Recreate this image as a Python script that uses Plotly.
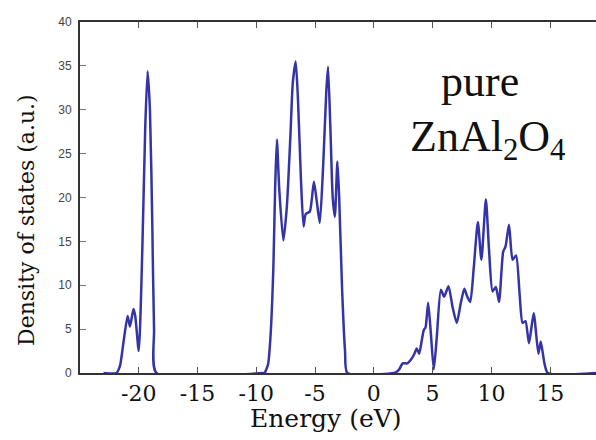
import plotly.graph_objects as go

# Energy (eV) and density of states (a.u.)
energy = [
    -23.0, -21.9, -21.6, -21.3, -20.95, -20.75, -20.45, -20.3, -20.0, -19.7,
    -19.45, -19.25, -19.05, -18.85, -18.7, -18.5, -9.4,
    -9.3, -9.0, -8.8, -8.55, -8.4, -8.25, -8.05, -7.7, -7.4, -7.1, -6.9,
    -6.65, -6.45, -6.2, -5.98, -5.8, -5.45, -5.1, -4.85, -4.6, -4.3, -4.05,
    -3.9, -3.7, -3.5, -3.32, -3.1, -2.95, -2.7, -2.45, -2.25, 1.7,
    1.9, 2.15, 2.45, 2.85, 3.15, 3.45, 3.65, 3.85, 4.05, 4.25, 4.4, 4.62,
    4.85, 5.1, 5.35, 5.7, 5.98, 6.35, 6.7, 7.05, 7.4, 7.7, 7.95, 8.2, 8.5,
    8.85, 9.15, 9.53, 9.8, 10.1, 10.38, 10.65, 11.0, 11.2, 11.5, 11.8, 12.1,
    12.4, 12.65, 12.9, 13.2, 13.6, 14.0, 14.2, 14.5, 14.8, 19.0,
]
dos = [
    0.0, 0.0, 0.8, 3.5, 6.5, 5.3, 7.3, 6.5, 2.5, 14.0,
    28.0, 34.4, 30.0, 17.0, 5.0, 0.0, 0.0,
    0.0, 1.0, 4.0, 12.0, 21.0, 26.6, 21.0, 15.1, 19.0, 27.0, 33.0,
    35.5, 31.0, 22.0, 16.7, 18.1, 18.4, 21.8, 19.5, 17.1, 24.0, 32.0,
    34.9, 28.0, 20.0, 17.8, 24.1, 20.0, 9.5, 2.5, 0.0, 0.0,
    0.1, 0.4, 1.1, 1.1, 1.5, 2.2, 2.8, 2.2, 3.5, 4.9, 5.2, 8.0,
    4.5, 0.4, 4.0, 9.5, 8.7, 9.9, 7.5, 5.7, 8.0, 9.6, 8.7, 8.1, 12.0,
    17.2, 12.9, 19.8, 14.0, 9.3, 9.8, 8.1, 13.8, 14.4, 16.9, 12.9, 13.4,
    9.0, 5.7, 5.9, 3.4, 6.8, 2.2, 3.6, 1.2, 0.0, 0.0,
]

x_ticks = [-20, -15, -10, -5, 0, 5, 10, 15]
x_tick_labels = ["-20", "-15", "-10", "-5", "0", "5", "10", "15"]
y_ticks = [0, 5, 10, 15, 20, 25, 30, 35, 40]

fig = go.Figure()
fig.add_trace(go.Scatter(
    x=energy, y=dos, mode="lines",
    line=dict(color="#3434a8", width=2.5, shape="spline", smoothing=0.6),
    showlegend=False, hoverinfo="skip",
))

serif = "Liberation Serif, Times New Roman, serif"
slab = "DejaVu Serif, serif"

fig.update_layout(
    width=596, height=440,
    margin=dict(l=80, r=0, t=22, b=67),
    paper_bgcolor="white", plot_bgcolor="white",
    xaxis=dict(
        range=[-25, 18.9], tickvals=x_ticks, ticktext=x_tick_labels,
        ticks="inside", ticklen=6, tickcolor="#555", tickwidth=1,
        showline=True, linecolor="#333", linewidth=2, mirror="ticks",
        showgrid=False, zeroline=False,
        tickfont=dict(family=slab, size=22, color="#111"),
    ),
    yaxis=dict(
        range=[0, 40], tickvals=y_ticks,
        ticks="inside", ticklen=6, tickcolor="#777", tickwidth=1,
        showline=True, linecolor="#333", linewidth=2,
        showgrid=False, zeroline=False,
        tickfont=dict(family="Liberation Sans, Arial, sans-serif", size=12, color="#444"),
        ticklabelstandoff=4,
    ),
    annotations=[
        dict(text="Energy (eV)", xref="paper", yref="paper",
             x=(326 - 80) / 516, y=-(418 - 373) / 351, xanchor="center", yanchor="middle",
             showarrow=False, font=dict(family=slab, size=25, color="#111")),
        dict(text="Density of states (a.u.)", xref="paper", yref="paper",
             x=-(80 - 26) / 516, y=(373 - 220) / 351, xanchor="center", yanchor="middle",
             textangle=-90, showarrow=False, font=dict(family=slab, size=22, color="#111")),
        dict(text="pure", xref="paper", yref="paper",
             x=(480 - 80) / 516, y=(373 - 82) / 351, xanchor="center", yanchor="middle",
             showarrow=False, font=dict(family=serif, size=44, color="#111")),
        dict(text="ZnAl<sub>2</sub>O<sub>4</sub>", xref="paper", yref="paper",
             x=(487 - 80) / 516, y=(373 - 139) / 351, xanchor="center", yanchor="middle",
             showarrow=False, font=dict(family=serif, size=44, color="#111")),
    ],
)

fig.write_html(
    "out.html",
    config={"displayModeBar": False},
    post_script="document.body.style.margin='0';document.body.style.overflow='hidden';",
)
